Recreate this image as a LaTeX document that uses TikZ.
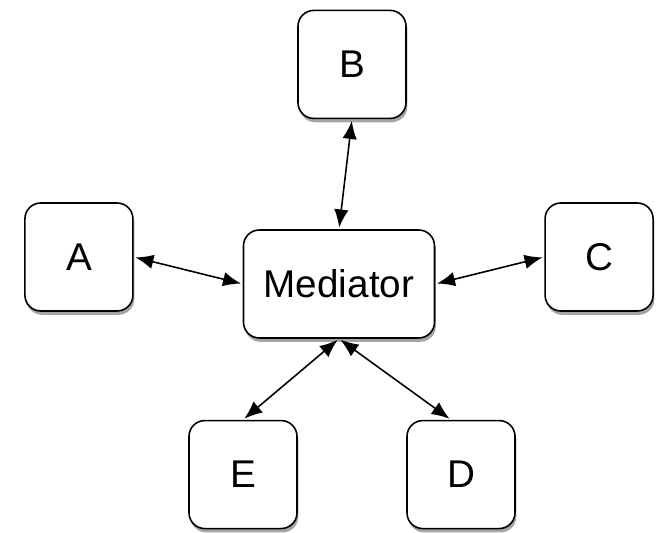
\documentclass[tikz,border=0pt]{standalone}
\usepackage{fontspec}
\setmainfont{Liberation Sans}
\usetikzlibrary{arrows.meta, positioning, shadows}

\begin{document}
\begin{tikzpicture}[
    font=\fontsize{22}{26}\selectfont,
    line width=0.9pt,
    peer/.style={
        rectangle, rounded corners=9pt,
        draw=black, fill=white,
        align=center, minimum width=2.16cm,
        minimum height=2.16cm, inner sep=0pt,
        drop shadow={shadow xshift=0.8pt, shadow yshift=-2.2pt, opacity=0.5, fill=black!70}
    },
    hub/.style={
        peer, minimum width=3.82cm
    },
    link/.style={
        {Latex[length=3.6mm,width=2.9mm]}-{Latex[length=3.6mm,width=2.9mm]},
        draw=black, line width=0.9pt, shorten <=1pt, shorten >=1pt
    }
]
    \useasboundingbox (-6.78,-4.98) rectangle (6.52,5.68);

    \node[hub] (med) at (0,0) {Mediator};

    \node[peer, above=2.2cm of med, xshift=0.26cm] (b) {B};
    \node[peer, left=2.18cm of med, yshift=0.54cm] (a) {A};
    \node[peer, right=2.18cm of med, yshift=0.54cm] (c) {C};
    \node[peer, below=1.62cm of med, xshift=-1.92cm] (e) {E};
    \node[peer, below=1.62cm of med, xshift=2.44cm] (d) {D};

    \draw[link] (b.south) -- (med.north);
    \draw[link] (a.east) -- (med.west);
    \draw[link] (c.west) -- (med.east);
    \draw[link] (e.north) -- (med.south);
    \draw[link] ([xshift=-0.2cm]d.north) -- (med.south);
\end{tikzpicture}
\end{document}
